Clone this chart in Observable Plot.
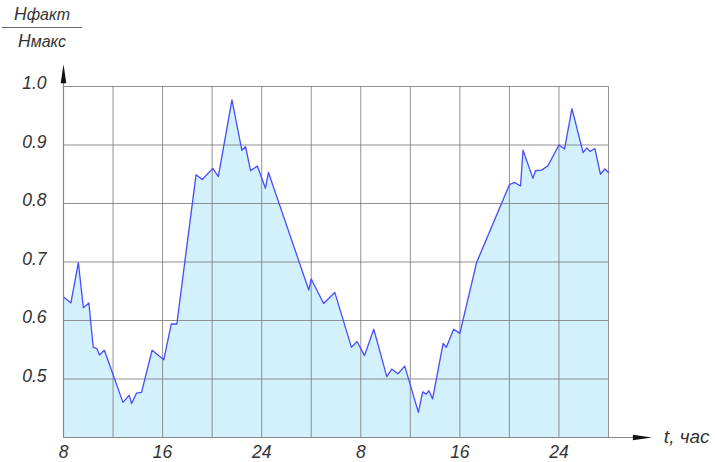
<!DOCTYPE html>
<html>
<head>
<meta charset="utf-8">
<script src="https://cdn.jsdelivr.net/npm/d3@7"></script>
<script src="https://cdn.jsdelivr.net/npm/@observablehq/plot@0.6"></script>
<style>
  html, body { margin: 0; padding: 0; background: #fff; }
  #wrap { position: relative; width: 715px; height: 462px; font-family: "Liberation Sans", Arial, sans-serif; }
  #title { position: absolute; left: 2px; top: 6px; width: 80px; font-style: italic; color: #333; text-align: center; line-height: 1; }
  #title .num { padding: 0 0 3px 0; border-bottom: 1px solid #666; font-size: 16px; }
  #title .den { padding-top: 5px; font-size: 16px; }
  #title .big { font-size: 17.5px; }
</style>
</head>
<body>
<div id="wrap">
  <div id="title">
    <div class="num"><span class="big">H</span>факт</div>
    <div class="den"><span class="big">H</span>макс</div>
  </div>
</div>
<script>
// --- data ---
const hours = [8, 8.6, 9.2, 9.6, 10.05, 10.4, 10.7, 10.9, 11.3, 12.8, 13.3, 13.5, 13.9, 14.3, 15.15, 16.1, 16.7, 17.15,
  18.7, 19.2, 20.05, 20.5, 21.6, 22.4, 22.7, 23.1, 23.65, 24.3, 24.55, 27.8, 28.0, 29.0, 29.9, 31.25, 31.7, 32.3, 33.05,
  34.1, 34.5, 35.0, 35.55, 36.65, 37.0, 37.3, 37.5, 37.8, 38.65, 38.9, 39.5, 40.0, 41.35, 44.0, 44.4, 44.9, 45.1, 45.9,
  46.1, 46.6, 47.1, 48.0, 48.45, 49.05, 49.95, 50.25, 50.5, 50.9, 51.35, 51.7, 52];
const values = [0.640, 0.630, 0.699, 0.622, 0.630, 0.554, 0.552, 0.541, 0.549, 0.460, 0.472, 0.458, 0.476, 0.477, 0.549, 0.533, 0.594, 0.594,
  0.849, 0.841, 0.860, 0.846, 0.977, 0.891, 0.897, 0.856, 0.864, 0.826, 0.853, 0.652, 0.671, 0.629, 0.648, 0.554, 0.564, 0.540, 0.585,
  0.504, 0.517, 0.509, 0.522, 0.443, 0.478, 0.474, 0.480, 0.466, 0.561, 0.554, 0.585, 0.578, 0.699, 0.832, 0.836, 0.830, 0.891, 0.843,
  0.856, 0.857, 0.864, 0.900, 0.893, 0.962, 0.887, 0.895, 0.889, 0.894, 0.850, 0.859, 0.853];
const xTickHours = [8, 16, 24, 32, 40, 48];
const xTickLabels = ["8", "16", "24", "8", "16", "24"];
const xGridHours = [12, 16, 20, 24, 28, 32, 36, 40, 44, 48, 52];
const yTicks = [0.5, 0.6, 0.7, 0.8, 0.9, 1.0];
const yTickLabels = ["0.5", "0.6", "0.7", "0.8", "0.9", "1.0"];
const xDomain = [8, 52];
const yDomain = [0.4, 1.0];
const xArrowTip = 55.5;
const yArrowTip = 1.038;
const xAxisLabel = "t, час";

const data = hours.map((h, i) => ({h, v: values[i]}));

const arrowSymbol = {
  draw(ctx) {
    ctx.moveTo(0, 0);
    ctx.lineTo(-2.8, 19);
    ctx.lineTo(2.8, 19);
    ctx.closePath();
  }
};

const textColor = "#333";
const font = "Liberation Sans, Arial, sans-serif";

const chart = Plot.plot({
  width: 715,
  height: 462,
  marginLeft: 63,
  marginRight: 107,
  marginTop: 86,
  marginBottom: 25,
  style: {fontFamily: font, background: "transparent", overflow: "visible"},
  x: {domain: xDomain, axis: null},
  y: {domain: yDomain, axis: null},
  marks: [
    Plot.areaY(data, {x: "h", y1: yDomain[0], y2: "v", fill: "#d2f1fc"}),
    Plot.ruleX(xGridHours, {x: d => d, y1: yDomain[0], y2: yDomain[1], stroke: "#777", strokeWidth: 1, strokeOpacity: 0.8}),
    Plot.ruleY(yTicks, {y: d => d, x1: xDomain[0], x2: xDomain[1], stroke: "#777", strokeWidth: 1, strokeOpacity: 0.8}),
    Plot.lineY(data, {x: "h", y: "v", stroke: "#4b4bff", strokeWidth: 1.3}),
    // axes
    Plot.ruleY([yDomain[0]], {x1: xDomain[0], x2: xArrowTip - 1, stroke: "#888", strokeWidth: 1.2}),
    Plot.ruleX([xDomain[0]], {y1: yDomain[0], y2: yArrowTip - 0.01, stroke: "#888", strokeWidth: 1.2}),
    Plot.dot([{x: xDomain[0], y: yArrowTip}], {x: "x", y: "y", symbol: arrowSymbol, fill: "#111", stroke: "none"}),
    Plot.dot([{x: xArrowTip, y: yDomain[0]}], {x: "x", y: "y", symbol: arrowSymbol, fill: "#111", stroke: "none", rotate: 90}),
    // tick labels
    Plot.text(yTicks, {x: xDomain[0], y: d => d, text: (d, i) => yTickLabels[i], textAnchor: "end", dx: -17, dy: -3,
      fontSize: 17.5, fontStyle: "italic", fill: textColor}),
    Plot.text(xTickHours, {x: d => d, y: yDomain[0], text: (d, i) => xTickLabels[i], dy: 15,
      fontSize: 17.5, fontStyle: "italic", fill: textColor}),
    Plot.text([xAxisLabel], {x: xArrowTip, y: yDomain[0], text: d => d, textAnchor: "start", dx: 12, dy: -1,
      fontSize: 19, fontStyle: "italic", fill: textColor})
  ]
});
document.getElementById("wrap").prepend(chart);
</script>
</body>
</html>
